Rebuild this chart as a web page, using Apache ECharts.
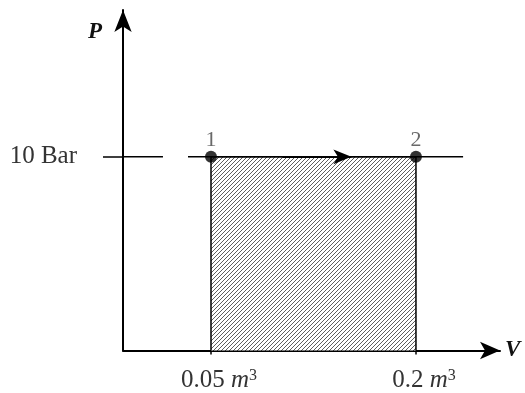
<!DOCTYPE html>
<html>
<head>
<meta charset="utf-8">
<script src="https://cdn.jsdelivr.net/npm/echarts@6/dist/echarts.min.js"></script>
<style>html,body{margin:0;padding:0;background:#fff}#c{width:525px;height:393px}</style>
</head>
<body>
<div id="c"></div>
<script>
// Data
const vTicks = [0.05, 0.2];          // m^3
const pTicks = [10];                 // Bar
const stateV = [0.05, 0.2];
const stateP = [10, 10];
const stateNames = ['1', '2'];

const FONT = 'Liberation Serif';
const vMin = -0.0144, vMax = 0.2615;
const pMin = 0, pMax = 17.58;
const span = vMax - vMin;

// hatch pattern
const tile = document.createElement('canvas');
const s = 4;
tile.width = s; tile.height = s;
const g = tile.getContext('2d');
g.fillStyle = '#fff'; g.fillRect(0, 0, s, s);
g.strokeStyle = '#5e5e5e'; g.lineWidth = 1;
g.beginPath();
g.moveTo(0, s); g.lineTo(s, 0);
g.moveTo(-1, 1); g.lineTo(1, -1);
g.moveTo(s - 1, s + 1); g.lineTo(s + 1, s - 1);
g.stroke();

const rect = [[stateV[0], pMin], [stateV[0], stateP[0]], [stateV[1], stateP[1]], [stateV[1], pMin]];
const procLine = [[stateV[0] - span * 0.061, stateP[0]], [stateV[1] + span * 0.125, stateP[1]]];
const axisDash = [[vMin, pTicks[0]], [vMin + span * 0.106, pTicks[0]]];
const arrowStart = stateV[0] + (stateV[1] - stateV[0]) * 0.35;
const arrowEnd = stateV[0] + (stateV[1] - stateV[0]) * 0.685;

const chart = echarts.init(document.getElementById('c'));
chart.setOption({
  animation: false,
  grid: { left: 123, right: 25, top: 10, bottom: 42 },
  xAxis: {
    type: 'value', min: vMin, max: vMax,
    splitLine: { show: false },
    axisLine: { onZero: false, lineStyle: { color: '#000', width: 2 }, symbol: ['none', 'arrow'], symbolSize: [13, 20] },
    axisTick: { show: true, customValues: vTicks, length: 4, lineStyle: { color: '#000', width: 1.5 } },
    axisLabel: {
      customValues: vTicks, margin: 17, color: '#333', padding: [0, 0, 0, 16],
      formatter: v => `{n|${v} }{m|m}{s|3}`,
      rich: {
        n: { fontFamily: FONT, fontSize: 25, color: '#333' },
        m: { fontFamily: FONT, fontSize: 25, fontStyle: 'italic', color: '#333' },
        s: { fontFamily: FONT, fontSize: 16, verticalAlign: 'top', color: '#333', padding: [0, 0, 10, 0] }
      }
    },
    name: 'V', nameLocation: 'end', nameGap: 5,
    nameTextStyle: { fontFamily: FONT, fontSize: 23, fontStyle: 'italic', fontWeight: 'bold', color: '#111', verticalAlign: 'middle' }
  },
  yAxis: [{
    type: 'value', min: pMin, max: pMax,
    splitLine: { show: false },
    axisLine: { onZero: false, lineStyle: { color: '#000', width: 2 }, symbol: ['none', 'arrow'], symbolSize: [13, 22] },
    axisTick: { show: true, customValues: pTicks, length: 20, lineStyle: { color: '#000', width: 1.5 } },
    axisLabel: {
      customValues: pTicks, margin: 46, color: '#333',
      fontFamily: FONT, fontSize: 25,
      formatter: v => v + ' Bar'
    },
    name: 'P', nameLocation: 'end', nameGap: -22,
    nameTextStyle: { fontFamily: FONT, fontSize: 23, fontStyle: 'italic', fontWeight: 'bold', color: '#111', align: 'right', verticalAlign: 'middle', padding: [0, 21, 0, 0] }
  }],
  series: [
    {
      type: 'line', data: rect, symbol: 'none',
      lineStyle: { color: '#000', width: 1.5 },
      areaStyle: { color: { image: tile, repeat: 'repeat' }, opacity: 1, origin: 'start' },
      z: 2
    },
    {
      type: 'line', data: procLine, symbol: 'none',
      lineStyle: { color: '#000', width: 1.5 }, z: 3,
      markLine: {
        silent: true, symbol: ['none', 'arrow'], symbolSize: [11, 18],
        lineStyle: { color: '#000', width: 2, type: 'solid' },
        label: { show: false },
        data: [[{ coord: [arrowStart, stateP[0]] }, { coord: [arrowEnd, stateP[0]] }]]
      }
    },
    {
      type: 'line', data: axisDash, symbol: 'none',
      lineStyle: { color: '#000', width: 1.5 }, z: 3
    },
    {
      type: 'scatter', data: stateV.map((v, i) => [v, stateP[i]]),
      symbolSize: 12, itemStyle: { color: '#000' }, z: 5,
      label: {
        show: true, position: 'top', distance: 0,
        formatter: p => stateNames[p.dataIndex],
        fontFamily: FONT, fontSize: 22, color: '#444'
      }
    }
  ]
});
</script>
</body>
</html>
